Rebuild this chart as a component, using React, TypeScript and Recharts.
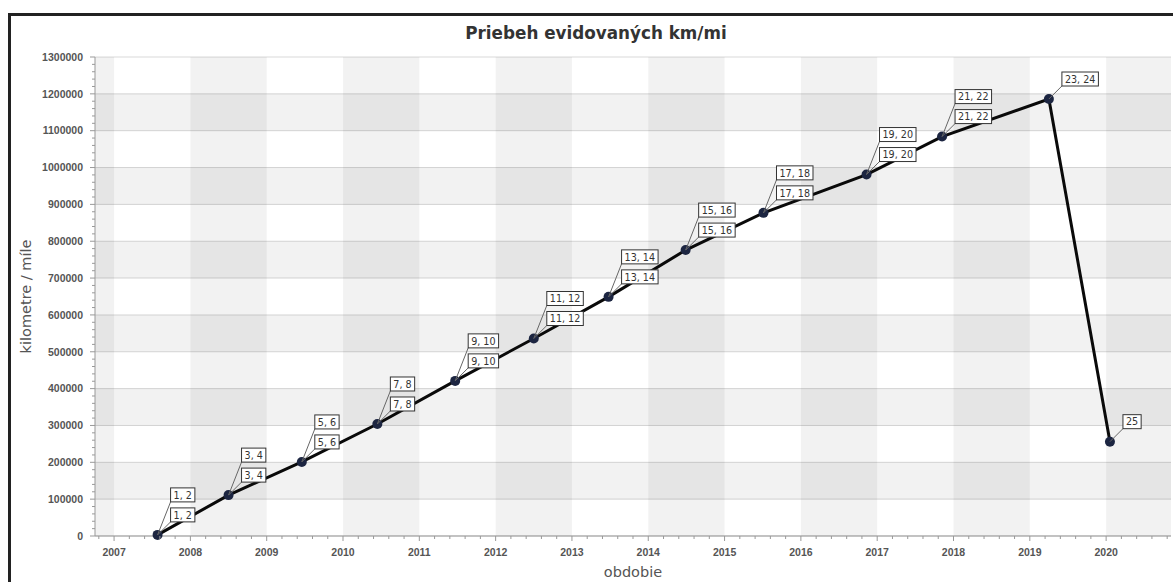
import React from 'react';
import { LineChart, Line, XAxis, YAxis, CartesianGrid, ReferenceArea } from 'recharts';

// point positions (decimal year, km)
const years = [2007.57, 2008.5, 2009.46, 2010.45, 2011.47, 2012.5, 2013.48, 2014.49, 2015.51, 2016.86, 2017.85, 2019.25, 2020.05];
const km = [3000, 111000, 201000, 304000, 421000, 536000, 649000, 776000, 877000, 981000, 1084000, 1186000, 256000];
const upperLabels = ['1, 2', '3, 4', '5, 6', '7, 8', '9, 10', '11, 12', '13, 14', '15, 16', '17, 18', '19, 20', '21, 22', '', ''];
const lowerLabels = ['1, 2', '3, 4', '5, 6', '7, 8', '9, 10', '11, 12', '13, 14', '15, 16', '17, 18', '19, 20', '21, 22', '23, 24', '25'];

const yearTicks = [2007, 2008, 2009, 2010, 2011, 2012, 2013, 2014, 2015, 2016, 2017, 2018, 2019, 2020];
const kmTicks = [0, 100000, 200000, 300000, 400000, 500000, 600000, 700000, 800000, 900000, 1000000, 1100000, 1200000, 1300000];
const shadedYears = [2006, 2008, 2010, 2012, 2014, 2016, 2018, 2020];
const shadedKm = [100000, 300000, 500000, 700000, 900000, 1100000];

const xDomain = [2006.75, 2020.85];

const data = years.map((year, i) => ({ year, km: km[i] }));

// minor ticks: 5 per year, 5 per 100000
const xMinor: number[] = [];
for (let i = 10034; i <= 10104; i++) xMinor.push(i / 5);
const yMinor: number[] = [];
for (let v = 0; v <= 1300000; v += 20000) yMinor.push(v);

const TICK_FONT = '"Liberation Sans", Arial, sans-serif';
const LABEL_FONT = '"DejaVu Sans", Verdana, sans-serif';

const isMajor = (v: number, step: number) => Math.abs(v / step - Math.round(v / step)) < 1e-6;

const XTick = (props: any) => {
  const { x, y, payload } = props;
  const axisY = y - 12;
  const major = isMajor(payload.value, 1);
  return (
    <g>
      <line x1={x} x2={x} y1={axisY} y2={axisY + (major ? 5 : 3)} stroke="#999" />
      {major && yearTicks.includes(Math.round(payload.value)) && (
        <text x={x} y={y} dy="0.75em" textAnchor="middle" fontFamily={TICK_FONT} fontSize={10.5} fontWeight="bold" fill="#555">
          {Math.round(payload.value)}
        </text>
      )}
    </g>
  );
};

const YTick = (props: any) => {
  const { x, y, payload } = props;
  const axisX = x + 12;
  const major = isMajor(payload.value, 100000);
  return (
    <g>
      <line x1={axisX - (major ? 5 : 3)} x2={axisX} y1={y} y2={y} stroke="#999" />
      {major && (
        <text x={x} y={y} dy="0.36em" textAnchor="end" fontFamily={TICK_FONT} fontSize={10.5} fontWeight="bold" fill="#555">
          {payload.value}
        </text>
      )}
    </g>
  );
};

const textWidth = (s: string) => {
  let w = 0;
  for (const c of s) w += c >= '0' && c <= '9' ? 6.1 : 3.05;
  return w;
};

const PointLabel = (props: any) => {
  const { x, y, index } = props;
  const boxes = [
    { text: lowerLabels[index], top: -27 },
    { text: upperLabels[index], top: -47 },
  ].filter(b => b.text);
  const left = x + 13;
  return (
    <g>
      {boxes.map((b, i) => {
        const w = textWidth(b.text) + 6;
        const top = y + b.top;
        return (
          <g key={i}>
            <line x1={x} y1={y} x2={left} y2={top + 14} stroke="#666" strokeWidth={1} />
            <rect x={left} y={top} width={w} height={14} fill="#fff" stroke="#333" strokeWidth={1} />
            <text x={left + w / 2} y={top + 10.8} textAnchor="middle" fontFamily={LABEL_FONT} fontSize={9.6} fill="#333">
              {b.text}
            </text>
          </g>
        );
      })}
    </g>
  );
};

export default function App() {
  return (
    <div style={{ position: 'absolute', left: 0, top: 0, width: 1173, height: 582, overflow: 'hidden', background: '#fff' }}>
      <div style={{ position: 'absolute', left: 8, top: 13, width: 1200, height: 620, border: '3px solid #222', background: '#fff' }} />
      <div
        style={{
          position: 'absolute', left: 0, top: 23, width: 1192, textAlign: 'center',
          fontFamily: LABEL_FONT, fontWeight: 'bold', fontSize: 16.8, lineHeight: '20px', color: '#333',
        }}
      >
        Priebeh evidovaných km/mi
      </div>
      <div style={{ position: 'absolute', left: 0, top: 0 }}>
        <LineChart width={1173} height={582} data={data} margin={{ top: 57, right: 2, bottom: 16, left: 8 }}>
          <CartesianGrid vertical={false} horizontalValues={kmTicks} stroke="#d9d9d9" />
          {shadedYears.map(yr => (
            <ReferenceArea key={'x' + yr} x1={yr} x2={yr + 1} fill="#000" fillOpacity={0.05} stroke="none" ifOverflow="hidden" />
          ))}
          {shadedKm.map(v => (
            <ReferenceArea key={'y' + v} y1={v} y2={v + 100000} fill="#000" fillOpacity={0.05} stroke="none" ifOverflow="hidden" />
          ))}
          <XAxis
            dataKey="year"
            type="number"
            domain={xDomain}
            allowDataOverflow
            ticks={xMinor}
            interval={0}
            tick={<XTick />}
            tickLine={false}
            tickSize={5}
            tickMargin={7}
            height={30}
            stroke="#999"
            label={{ value: 'obdobie', position: 'bottom', offset: 1, fill: '#555', fontSize: 14.5, fontFamily: LABEL_FONT }}
          />
          <YAxis
            type="number"
            domain={[0, 1300000]}
            ticks={yMinor}
            interval={0}
            tick={<YTick />}
            tickLine={false}
            tickSize={5}
            tickMargin={7}
            width={87}
            stroke="#999"
            label={{
              value: 'kilometre / míle', angle: -90, position: 'insideLeft', offset: 18,
              fill: '#555', fontSize: 14.5, fontFamily: LABEL_FONT, style: { textAnchor: 'middle' },
            }}
          />
          <Line
            type="linear"
            dataKey="km"
            stroke="#0a0a0a"
            strokeWidth={3}
            dot={{ r: 5, fill: '#1c2541', stroke: 'none' }}
            activeDot={false}
            label={<PointLabel />}
            isAnimationActive={false}
          />
        </LineChart>
      </div>
    </div>
  );
}
